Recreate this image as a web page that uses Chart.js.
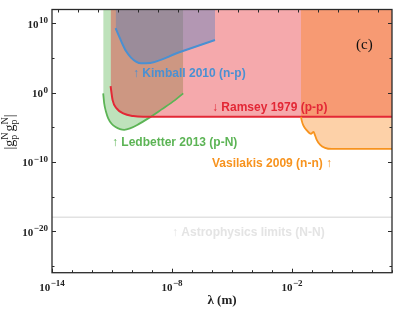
<!DOCTYPE html>
<html>
<head>
<meta charset="utf-8">
<script src="https://cdn.jsdelivr.net/npm/chart.js@4.4.1/dist/chart.umd.min.js"></script>
<style>
  html, body { margin: 0; padding: 0; background: #fff; }
  #chart { display: block; }
</style>
</head>
<body>
<canvas id="chart" width="399" height="310"></canvas>
<script>
// Axis ticks, as powers of ten
const lambdaLabelExps = [-14, -8, -2];
const couplingLabelExps = [10, 0, -10, -20];
const lambdaTickExps = [-14, -13, -12, -11, -10, -9, -8, -7, -6, -5, -4, -3, -2, -1, 0, 1, 2, 3];
const couplingTickExps = [-25, -20, -15, -10, -5, 0, 5, 10];
// top frame ticks follow mass decades (eV), lambda = hbar*c / m
const massTickExps = [-9, -8, -7, -6, -5, -4, -3, -2, -1, 0, 1, 2, 3, 4, 5, 6, 7];
const HBARC_EV_M = 1.973e-7;

// Limit curves, log10(lambda / m) and log10(|g g|)
const ledbetterLogLambda = [-11.44, -11.39, -11.30, -11.19, -11.02, -10.82, -10.60, -10.39, -10.10, -9.69, -9.19, -8.52, -7.85, -7.44];
const ledbetterLogG = [-0.11, -1.55, -2.77, -3.72, -4.50, -4.98, -5.27, -5.37, -5.17, -4.59, -3.72, -2.42, -1.08, -0.11];

const ramseyLogLambda = [-11.07, -10.97, -10.77, -10.44, -9.94, -9.44, 3];
const ramseyLogG = [0.95, -1.08, -2.28, -3.00, -3.39, -3.49, -3.49];

const kimballLogLambda = [-10.82, -10.65, -10.50, -10.30, -10.05, -9.80, -9.55, -9.30, -7.60, -5.85];
const kimballLogG = [9.30, 8.17, 7.16, 6.00, 5.06, 4.49, 4.23, 4.23, 5.86, 7.59];

const vasilakisLogLambda = [-1.55, -1.52, -1.44, -1.27, -1.05, -0.97, -0.92, -0.87, -0.77, -0.60, -0.35, 0.0, 3];
const vasilakisLogG = [-3.49, -3.97, -4.69, -5.41, -5.96, -5.76, -5.67, -5.99, -6.79, -7.51, -7.97, -8.13, -8.13];

const astroLogLambda = [-14, 3];
const astroLogG = [-18, -18];

function toPoints(logX, logY) {
    return logX.map((lx, i) => ({ x: Math.pow(10, lx), y: Math.pow(10, logY[i]) }));
}

// Draw "10" with a superscript exponent
function drawPower(ctx, exp, x, y, align) {
    const base = 'bold 11px "Liberation Serif"';
    const sup = 'bold 9px "Liberation Serif"';
    const expText = exp < 0 ? '\u2212' + Math.abs(exp) : String(exp);
    ctx.font = base;
    const wBase = ctx.measureText('10').width;
    ctx.font = sup;
    const wExp = ctx.measureText(expText).width;
    const total = wBase + wExp + 0.5;
    let x0 = x;
    if (align === 'center') x0 = x - total / 2;
    if (align === 'right') x0 = x - total;
    ctx.textAlign = 'left';
    ctx.textBaseline = 'alphabetic';
    ctx.font = base;
    ctx.fillText('10', x0, y);
    ctx.font = sup;
    ctx.fillText(expText, x0 + wBase + 0.5, y - 4.5);
}

function drawYTitle(ctx, cx, cy) {
    const big = '14px "Liberation Serif"';
    const small = '10px "Liberation Serif"';
    const parts = ['|', 'g', ['p', 'N'], ' ', 'g', ['p', 'N'], '|'];
    ctx.save();
    ctx.translate(cx, cy);
    ctx.rotate(-Math.PI / 2);
    ctx.fillStyle = '#1a1a1a';
    ctx.textBaseline = 'alphabetic';
    ctx.textAlign = 'left';
    const widths = parts.map(p => {
        if (Array.isArray(p)) {
            ctx.font = small;
            return Math.max(ctx.measureText(p[0]).width, ctx.measureText(p[1]).width);
        }
        ctx.font = big;
        return p === ' ' ? 1 : ctx.measureText(p).width;
    });
    const total = widths.reduce((a, b) => a + b, 0);
    let x = -total / 2;
    parts.forEach((p, i) => {
        if (Array.isArray(p)) {
            ctx.font = small;
            ctx.fillText(p[0], x, 3.5);
            ctx.fillText(p[1], x, -6);
        } else if (p !== ' ') {
            ctx.font = big;
            ctx.fillText(p, x, 0);
        }
        x += widths[i];
    });
    ctx.restore();
}

const frameAndLabels = {
    id: 'frameAndLabels',
    afterDraw(chart) {
        const ctx = chart.ctx;
        const area = chart.chartArea;
        const xs = chart.scales.x;
        const ys = chart.scales.y;
        ctx.save();

        // frame
        ctx.strokeStyle = '#2a2a2a';
        ctx.lineWidth = 1.3;
        ctx.strokeRect(area.left, area.top, area.right - area.left, area.bottom - area.top);

        // inward ticks
        ctx.lineWidth = 1;
        ctx.beginPath();
        lambdaTickExps.forEach(e => {
            const px = Math.round(xs.getPixelForValue(Math.pow(10, e))) + 0.5;
            const len = lambdaLabelExps.includes(e) ? 4 : 2.5;
            ctx.moveTo(px, area.bottom);
            ctx.lineTo(px, area.bottom - len);
        });
        massTickExps.forEach(k => {
            const px = Math.round(xs.getPixelForValue(HBARC_EV_M / Math.pow(10, k))) + 0.5;
            ctx.moveTo(px, area.top);
            ctx.lineTo(px, area.top + 3);
        });
        couplingTickExps.forEach(e => {
            const py = Math.round(ys.getPixelForValue(Math.pow(10, e))) + 0.5;
            const len = couplingLabelExps.includes(e) ? 4 : 2.5;
            ctx.moveTo(area.left, py);
            ctx.lineTo(area.left + len, py);
            ctx.moveTo(area.right, py);
            ctx.lineTo(area.right - len, py);
        });
        ctx.stroke();

        // tick labels
        ctx.fillStyle = '#222';
        lambdaLabelExps.forEach(e => {
            drawPower(ctx, e, xs.getPixelForValue(Math.pow(10, e)), area.bottom + 18, 'center');
        });
        couplingLabelExps.forEach(e => {
            drawPower(ctx, e, area.left - 4, ys.getPixelForValue(Math.pow(10, e)) + 4.5, 'right');
        });

        // axis titles
        ctx.font = 'bold 13px "Liberation Serif"';
        ctx.textAlign = 'center';
        ctx.fillText('\u03bb (m)', (area.left + area.right) / 2, 304);
        drawYTitle(ctx, 13.5, 132);

        // panel tag
        ctx.font = '15px "Liberation Serif"';
        ctx.fillStyle = '#111';
        ctx.textAlign = 'left';
        ctx.fillText('(c)', 356, 49);

        // experiment labels
        ctx.font = 'bold 12px "Liberation Sans"';
        ctx.fillStyle = '#4a90d2';
        ctx.fillText('\u2191 Kimball 2010 (n-p)', 133, 76.5);
        ctx.fillStyle = '#e32836';
        ctx.fillText('\u2193 Ramsey 1979 (p-p)', 212, 111);
        ctx.fillStyle = '#5cb455';
        ctx.fillText('\u2191 Ledbetter 2013 (p-N)', 112, 146);
        ctx.fillStyle = '#f7931e';
        ctx.fillText('Vasilakis 2009 (n-n) \u2191', 212, 167);
        ctx.fillStyle = '#e4e4e4';
        ctx.fillText('\u2191 Astrophysics limits (N-N)', 172, 236);

        ctx.restore();
    }
};

new Chart(document.getElementById('chart'), {
    type: 'line',
    data: {
        datasets: [
            {
                label: 'Vasilakis 2009 (n-n)',
                data: toPoints(vasilakisLogLambda, vasilakisLogG),
                borderColor: '#f7931e',
                backgroundColor: 'rgba(250, 130, 20, 0.37)',
                borderWidth: 1.8,
                fill: 'end'
            },
            {
                label: 'Kimball 2010 (n-p)',
                data: toPoints(kimballLogLambda, kimballLogG),
                borderColor: '#4a90d2',
                backgroundColor: 'rgba(80, 125, 190, 0.4)',
                borderWidth: 2,
                fill: 'end'
            },
            {
                label: 'Ramsey 1979 (p-p)',
                data: toPoints(ramseyLogLambda, ramseyLogG),
                borderColor: '#e32836',
                backgroundColor: 'rgba(228, 30, 38, 0.38)',
                borderWidth: 2,
                fill: 'end'
            },
            {
                label: 'Ledbetter 2013 (p-N)',
                data: toPoints(ledbetterLogLambda, ledbetterLogG),
                borderColor: '#5cb455',
                backgroundColor: 'rgba(80, 175, 70, 0.37)',
                borderWidth: 1.8,
                fill: 'end'
            },
            {
                label: 'Astrophysics limits (N-N)',
                data: toPoints(astroLogLambda, astroLogG),
                borderColor: '#e2e2e2',
                borderWidth: 1.4,
                fill: false
            }
        ]
    },
    options: {
        responsive: false,
        animation: false,
        devicePixelRatio: 1,
        layout: { padding: { left: 52, right: 7, top: 9.5, bottom: 37.3 } },
        elements: {
            point: { radius: 0 },
            line: { cubicInterpolationMode: 'monotone' }
        },
        scales: {
            x: { type: 'logarithmic', min: 1e-14, max: 1e3, display: false },
            y: { type: 'logarithmic', min: 1e-26, max: 1e12, display: false }
        },
        plugins: {
            legend: { display: false },
            tooltip: { enabled: false },
            filler: { drawTime: 'beforeDatasetsDraw' }
        }
    },
    plugins: [frameAndLabels]
});
</script>
</body>
</html>
